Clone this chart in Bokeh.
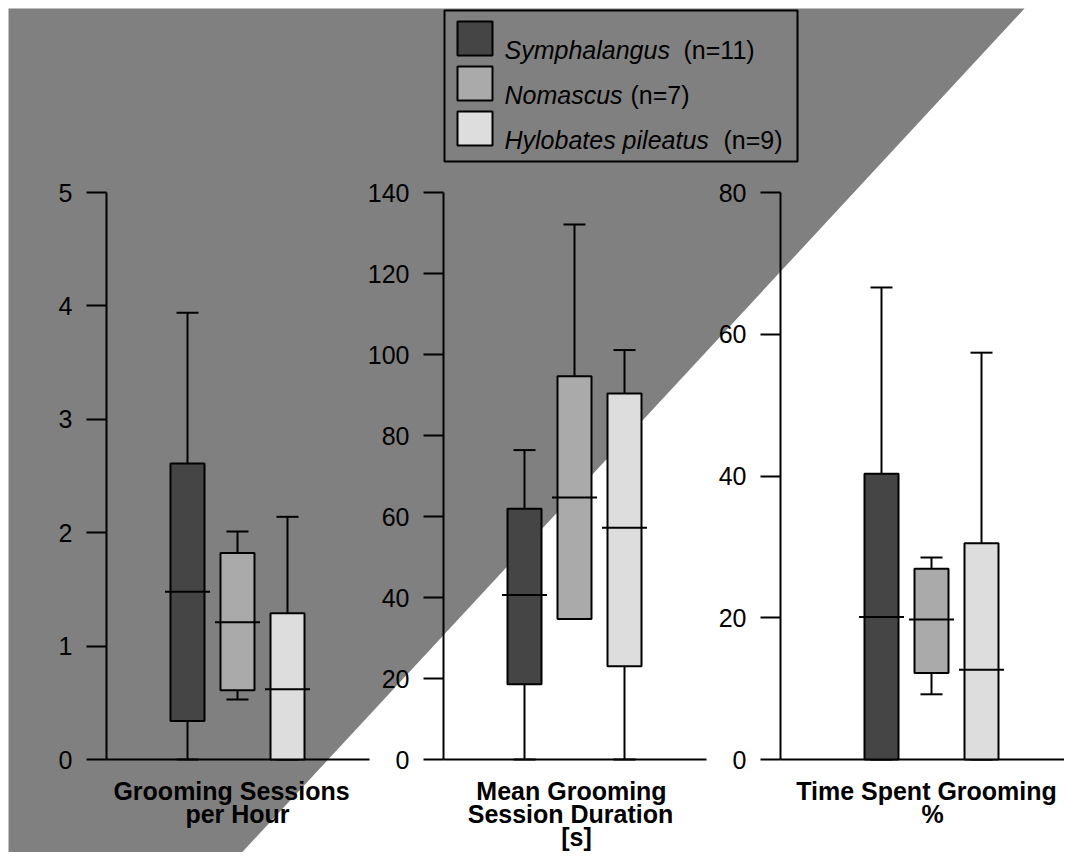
from bokeh.plotting import figure
from bokeh.models import Range1d, LinearAxis, FixedTicker, ColumnDataSource
from bokeh.core.properties import value
from bokeh.embed import file_html
from bokeh.resources import INLINE

# ---------------- data ----------------
groups = ["Symphalangus", "Nomascus", "Hylobates pileatus"]
group_n = ["(n=11)", "(n=7)", "(n=9)"]
group_colors = ["#454545", "#aaaaaa", "#dddddd"]

panel_titles = [
    ["Grooming Sessions", "per Hour"],
    ["Mean Grooming", "Session Duration", "[s]"],
    ["Time Spent Grooming", "%"],
]
panel_ticks = [
    [0, 1, 2, 3, 4, 5],
    [0, 20, 40, 60, 80, 100, 120, 140],
    [0, 20, 40, 60, 80],
]

# grooming sessions per hour
sessions_low = [0.0, 0.53, 0.0]
sessions_q1 = [0.34, 0.61, 0.0]
sessions_median = [1.48, 1.21, 0.62]
sessions_q3 = [2.61, 1.82, 1.29]
sessions_high = [3.94, 2.01, 2.14]

# mean grooming session duration [s]
duration_low = [0.0, 34.7, 0.0]
duration_q1 = [18.6, 34.7, 23.0]
duration_median = [40.6, 64.7, 57.2]
duration_q3 = [61.9, 94.6, 90.4]
duration_high = [76.4, 132.1, 101.1]

# time spent grooming %
time_low = [0.0, 9.2, 0.0]
time_q1 = [0.0, 12.2, 0.0]
time_median = [20.1, 19.75, 12.65]
time_q3 = [40.3, 26.9, 30.5]
time_high = [66.6, 28.5, 57.4]

panel_stats = [
    (sessions_low, sessions_q1, sessions_median, sessions_q3, sessions_high),
    (duration_low, duration_q1, duration_median, duration_q3, duration_high),
    (time_low, time_q1, time_median, time_q3, time_high),
]

# ---------------- layout (picture pixel coordinates) ----------------
X0, X1 = 0, 1064
Y0, Y1 = 0, 852
BG = 8
AXIS_X = [106, 443, 780]
FIRST_BOX = [187, 524, 881]
STEP = 50
BASE_END = [369, 706, 1072]
Y_ZERO, Y_TOP = 759, 192
BOX_HALF = 17
CAP_HALF = 11
MED_HALF = 22.5
TITLE_SHIFT = [[-6, 0], [-3, -4, 2], [-5, 1]]
TITLE_BASE = 790
TITLE_LEAD = 23
FONT = value("Liberation Sans")
FS = "25px"

p = figure(width=X1 - X0, height=Y1 - Y0,
           x_range=Range1d(X0, X1), y_range=Range1d(Y1, Y0),
           x_axis_type=None, y_axis_type=None,
           output_backend="svg", toolbar_location=None,
           min_border=0, outline_line_color=None,
           background_fill_color="white", border_fill_color="white")

# diagonal grey backdrop
p.patch([BG, 1024, 234, BG], [BG, BG, 860, 860],
        fill_color="#808080", line_color=None, level="underlay")

extra = {}
for i, ticks in enumerate(panel_ticks):
    vmax = ticks[-1]
    scale = (Y_ZERO - Y_TOP) / vmax
    extra[f"p{i}"] = Range1d(-(Y1 - Y_ZERO) / scale, vmax + (Y_TOP - Y0) / scale)
p.extra_y_ranges = extra

for i, ticks in enumerate(panel_ticks):
    name = f"p{i}"
    ax = LinearAxis(y_range_name=name, fixed_location=AXIS_X[i],
                    bounds=(0, ticks[-1]), ticker=FixedTicker(ticks=ticks))
    ax.axis_line_width = 2
    ax.axis_line_color = "black"
    ax.major_tick_line_width = 2
    ax.major_tick_line_color = "black"
    ax.major_tick_out = 20
    ax.major_tick_in = 0
    ax.minor_tick_line_color = None
    ax.major_label_standoff = 14
    ax.major_label_text_font = "Liberation Sans"
    ax.major_label_text_font_size = FS
    ax.major_label_text_color = "black"
    p.add_layout(ax, "left")

    # baseline
    p.segment(x0=[AXIS_X[i]], y0=[0], x1=[BASE_END[i]], y1=[0],
              line_color="black", line_width=2, y_range_name=name)

    low, q1, med, q3, high = panel_stats[i]
    xs = [FIRST_BOX[i] + STEP * k for k in range(len(groups))]
    src = ColumnDataSource(dict(
        x=xs, low=low, q1=q1, med=med, q3=q3, high=high, color=group_colors,
        left=[x - BOX_HALF for x in xs], right=[x + BOX_HALF for x in xs],
        cl=[x - CAP_HALF for x in xs], cr=[x + CAP_HALF for x in xs],
        ml=[x - MED_HALF for x in xs], mr=[x + MED_HALF for x in xs],
    ))
    kw = dict(source=src, line_color="black", line_width=2, y_range_name=name)
    p.segment(x0="x", y0="q3", x1="x", y1="high", **kw)
    p.segment(x0="x", y0="low", x1="x", y1="q1", **kw)
    p.segment(x0="cl", y0="high", x1="cr", y1="high", **kw)
    p.segment(x0="cl", y0="low", x1="cr", y1="low", **kw)
    p.quad(left="left", right="right", bottom="q1", top="q3",
           fill_color="color", **kw)
    p.segment(x0="ml", y0="med", x1="mr", y1="med", **kw)

    # panel title
    mid = FIRST_BOX[i] + STEP
    lines = panel_titles[i]
    p.text(x=[mid + TITLE_SHIFT[i][j] for j in range(len(lines))],
           y=[TITLE_BASE + TITLE_LEAD * j for j in range(len(lines))],
           text=lines, text_font=FONT, text_font_size=FS,
           text_font_style="bold", text_align="center",
           text_baseline="alphabetic", text_color="black")

# legend box
LEG_L, LEG_R, LEG_T, LEG_B = 444, 797, 10, 161
SW_L, SW_R = 457, 492
ROW0, ROW_STEP = 21, 45
SW_H = 34
TXT_X = 504
N_X = [683, 630, 723]
BASE0 = 49

p.quad(left=[LEG_L], right=[LEG_R], top=[LEG_T], bottom=[LEG_B],
       fill_color=None, line_color="black", line_width=2)
rows = list(range(len(groups)))
p.quad(left=[SW_L] * len(groups), right=[SW_R] * len(groups),
       top=[ROW0 + ROW_STEP * r for r in rows],
       bottom=[ROW0 + ROW_STEP * r + SW_H for r in rows],
       fill_color=group_colors, line_color="black", line_width=2)
p.text(x=[TXT_X] * len(groups), y=[BASE0 + ROW_STEP * r for r in rows],
       text=groups, text_font=FONT, text_font_size=FS,
       text_font_style="italic", text_baseline="alphabetic",
       text_color="black")
p.text(x=N_X, y=[BASE0 + ROW_STEP * r for r in rows],
       text=group_n, text_font=FONT, text_font_size=FS,
       text_baseline="alphabetic", text_color="black")

open("out.html", "w").write(file_html(p, INLINE))
